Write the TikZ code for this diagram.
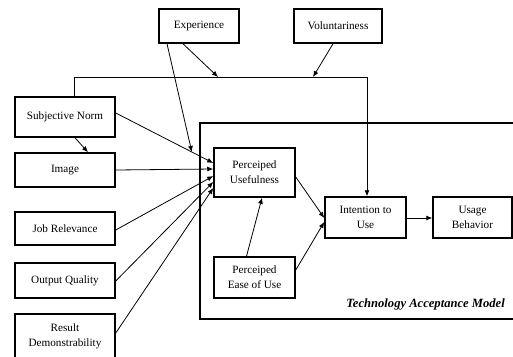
\documentclass[tikz,border=0pt]{standalone}
\usepackage{fontspec}
\setmainfont{Liberation Serif}
\usetikzlibrary{arrows.meta,calc}
\begin{document}
\begin{tikzpicture}[x=1pt,y=-1pt,
  box/.style={draw,line width=1.5pt,inner sep=1pt,align=center,font=\fontsize{11.2}{15}\selectfont},
  conn/.style={line width=0.8pt,-{Latex[length=6pt,width=5pt]}},
  plain/.style={line width=0.8pt}]
\useasboundingbox (0,0) rectangle (513,356);
\clip (0,0) rectangle (513,356);
\draw[line width=1.6pt] (200,123) rectangle (530,319);
\node[anchor=base east,inner sep=0pt,font=\fontsize{12.6}{14}\selectfont\bfseries\itshape] (tam) at (505,307) {Technology Acceptance Model};
\node[box,minimum width=80pt,minimum height=34pt] (exp) at (199,26) {Experience};
\node[box,minimum width=88pt,minimum height=34pt] (vol) at (338,26) {Voluntariness};
\node[box,minimum width=100pt,minimum height=40pt] (sn) at (65,117) {Subjective Norm};
\node[box,minimum width=100pt,minimum height=34pt] (img) at (65,170) {Image};
\node[box,minimum width=100pt,minimum height=33pt] (jr) at (65,228.5) {Job Relevance};
\node[box,minimum width=100pt,minimum height=35pt] (oq) at (65,280.5) {Output Quality};
\node[box,minimum width=100pt,minimum height=44pt] (rd) at (65,336) {Result\\Demonstrability};
\node[box,minimum width=81pt,minimum height=49pt] (pu) at (254.5,172.5) {Perceiped\\Usefulness};
\node[box,minimum width=81pt,minimum height=41pt] (peu) at (254.5,277.5) {Perceiped\\Ease of Use};
\node[box,minimum width=81pt,minimum height=41pt] (itu) at (365.5,217.5) {Intention to\\Use};
\node[box,minimum width=79pt,minimum height=41pt] (ub) at (472.5,217.5) {Usage\\Behavior};
\coordinate (c1) at (74,77);
\coordinate (c2) at (367,77);
\coordinate (e1) at (218,77);
\coordinate (v1) at (313,77);
\draw[plain] (sn.north -| c1) -- (c1) -- (c2);
\draw[conn] (c2) -- (itu.north -| c2);
\draw[conn] ($(exp.south)+(-16,0)$) -- (e1);
\draw[conn] ($(vol.south)+(-5,0)$) -- (v1);
\coordinate (snend) at ($(pu.west)+(0,-9.5)$);
\coordinate (snst) at ($(sn.east)+(0,-4)$);
\draw[conn] (snst) -- (snend);
\draw[conn] ($(exp.south)+(-32,0)$) -- ($(snst)!0.78!(snend)$);
\draw[conn] ($(sn.south)+(10,0)$) -- ($(img.north)+(23,0)$);
\draw[conn] (img.east) -- ($(pu.west)+(0,-3.5)$);
\draw[conn] ($(jr.east)+(0,1.5)$) -- ($(pu.west)+(0,3.5)$);
\draw[conn] ($(oq.east)+(0,0.5)$) -- ($(pu.west)+(0,9.5)$);
\draw[conn] ($(rd.east)+(0,-3)$) -- ($(pu.west)+(0,15.5)$);
\draw[conn] ($(pu.east)+(0,4.5)$) -- ($(itu.west)+(0,0.5)$);
\draw[conn] ($(peu.north)+(-8,0)$) -- ($(pu.south)+(7.5,0)$);
\draw[conn] ($(peu.east)+(0,-7.5)$) -- ($(itu.west)+(0,4.5)$);
\draw[conn] ($(itu.east)+(0,0.5)$) -- ($(ub.west)+(0,0.5)$);
\end{tikzpicture}
\end{document}
